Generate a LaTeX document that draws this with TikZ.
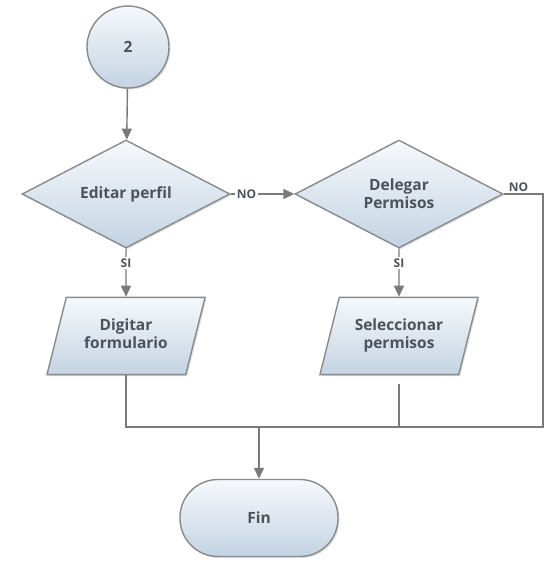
\documentclass[tikz,border=0pt]{standalone}
\usepackage{fontspec}
\setmainfont{Open Sans}
\usetikzlibrary{shapes.geometric,shadows,arrows.meta}
\definecolor{bordc}{HTML}{8A8A8A}
\definecolor{linec}{HTML}{7A7A7A}
\definecolor{txtc}{HTML}{4D535A}
\definecolor{topc}{HTML}{F6F9FC}
\definecolor{botc}{HTML}{C3D3E2}
\tikzset{
  shp/.style={draw=bordc, line width=1.4pt, top color=topc, bottom color=botc,
    drop shadow={opacity=0.25, shadow xshift=1.5pt, shadow yshift=-1.5pt},
    text=txtc, font=\bfseries\fontsize{15.5}{18}\selectfont, align=center, inner sep=0pt},
  circ/.style={shp, circle, minimum size=82pt},
  dec/.style={shp, diamond, minimum width=208pt, minimum height=108pt},
  io/.style={shp, trapezium, trapezium left angle=76, trapezium right angle=104,
    trapezium stretches body, minimum width=158pt, inner xsep=0pt, inner ysep=21pt,
    execute at begin node=\strut, execute at end node=\strut},
  term/.style={shp, rectangle, rounded corners=38pt, minimum width=158pt, minimum height=77pt},
  conn/.style={draw=linec, line width=1.4pt},
  arr/.style={conn, -{Triangle[length=11pt,width=10pt]}},
  lbl/.style={text=txtc, font=\bfseries\fontsize{12}{14}\selectfont, inner sep=1.5pt}
}
\begin{document}
\begin{tikzpicture}[x=1pt,y=-1pt]
\useasboundingbox (0,0) rectangle (546,563);
\node[circ] (c2) at (128,47) {2};
\node[dec] (d1) at (126,194) {Editar perfil};
\node[dec] (d2) at (399,194) {Delegar\\Permisos};
\node[io] (p1) at (126,336) {Digitar\\formulario};
\node[io] (p2) at (399,336) {Seleccionar\\permisos};
\node[term] (fin) at (259,518) {Fin};
\coordinate (m) at (259,427);
\coordinate (r) at (543,194);

\draw[arr] (c2) -- (d1);
\draw[arr] (d1.east) -- node[lbl, fill=white, pos=0.25] (no1) {NO} (d2.west);
\draw[arr] (d1.south) -- node[lbl, fill=white, pos=0.3] (si1) {SI} (p1.north);
\draw[arr] (d2.south) -- node[lbl, fill=white, pos=0.3] (si2) {SI} (p2.north);
\draw[conn] (d2.east) -- node[lbl, above, pos=0.38] (no2) {NO} (r) |- (m);
\draw[conn] (p1.south) |- (m);
\draw[conn, shorten <=9pt] (p2.south) |- (m);
\draw[arr] (m) -- (fin);
\end{tikzpicture}
\end{document}
